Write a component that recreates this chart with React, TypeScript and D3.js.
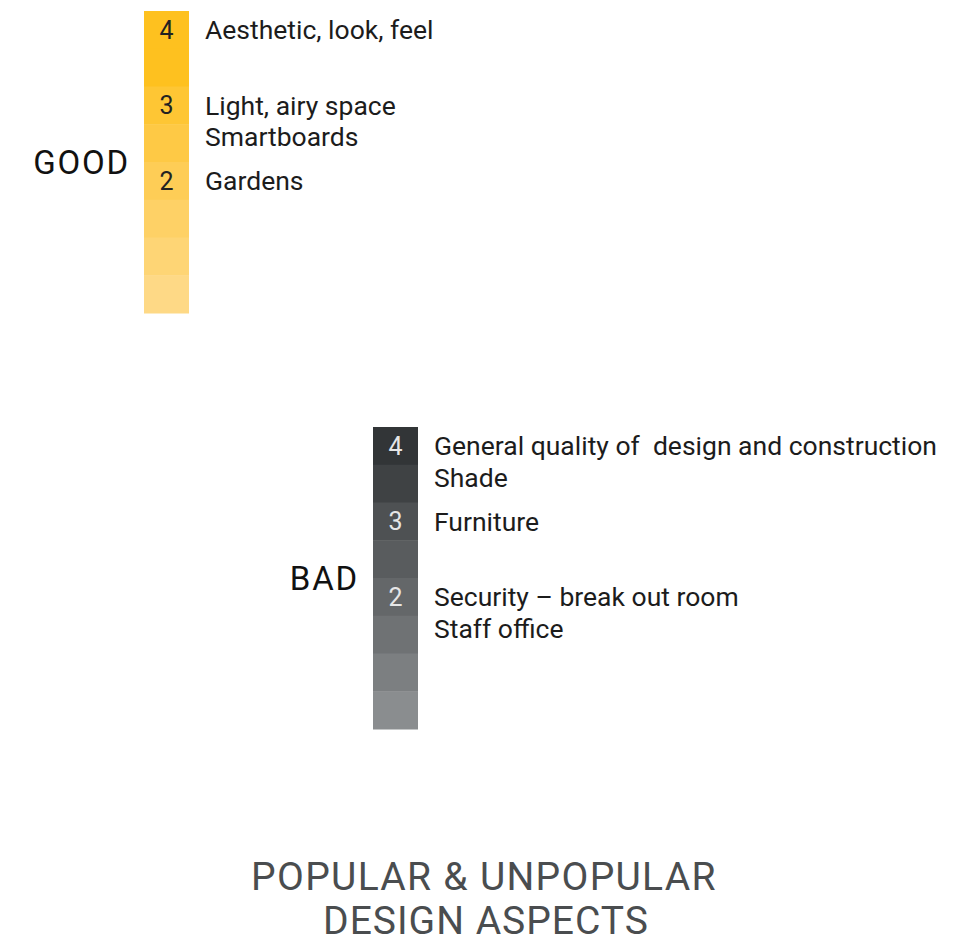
import React from "react";
import * as d3 from "d3";

const levels = [4, 3.5, 3, 2.5, 2, 1.5, 1, 0.5];
const tickLabels = [4, 3, 2];

const goodItems = [
  { label: "Aesthetic, look, feel", score: 4, line: 0 },
  { label: "Light, airy space", score: 3, line: 0 },
  { label: "Smartboards", score: 3, line: 1 },
  { label: "Gardens", score: 2, line: 0 },
];

const badItems = [
  { label: "General quality of  design and construction", score: 4, line: 0 },
  { label: "Shade", score: 4, line: 1 },
  { label: "Furniture", score: 3, line: 0 },
  { label: "Security \u2013 break out room", score: 2, line: 0 },
  { label: "Staff office", score: 2, line: 1 },
];

const goodColors = ["#fec11f", "#fec11f", "#fec634", "#fec945", "#fecd56", "#fed166", "#fed575", "#fed986"];
const badColors = ["#323537", "#3f4244", "#4e5153", "#595c5e", "#646769", "#6f7274", "#7c7f81", "#8a8d8f"];

const FONT = "Roboto, 'Noto Sans', sans-serif";

type Item = { label: string; score: number; line: number };

function Scale(props: {
  x: number;
  top: number;
  bottom: number;
  colors: string[];
  items: Item[];
  name: string;
  numColor: string;
}) {
  const { x, top, bottom, colors, items, name, numColor } = props;
  const y = d3.scaleBand<number>().domain(levels).range([top, bottom]);
  const color = d3.scaleOrdinal<number, string>().domain(levels).range(colors);
  const w = 45;
  const lineH = 31.5;
  return (
    <g>
      {levels.map((l) => (
        <rect key={l} x={x} y={y(l)!} width={w} height={y.bandwidth() + 0.5} fill={color(l)} />
      ))}
      {tickLabels.map((t) => (
        <text
          key={t}
          x={x + w / 2}
          y={y(t)! + y.bandwidth() / 2}
          dy="0.35em"
          textAnchor="middle"
          fontSize={25}
          fill={numColor}
          fontFamily={FONT}
        >
          {t}
        </text>
      ))}
      {items.map((it, i) => (
        <text
          key={i}
          x={x + w + 16}
          y={y(it.score)! + y.bandwidth() / 2 + it.line * lineH}
          dy="0.35em"
          fontSize={26.5}
          fill="#1c1c1c"
          fontFamily={FONT}
          style={{ whiteSpace: "pre" }}
        >
          {it.label}
        </text>
      ))}
      <text
        x={x - 14}
        y={(top + bottom) / 2}
        dy="0.35em"
        textAnchor="end"
        fontSize={33}
        letterSpacing={1.8}
        fill="#111"
        fontFamily={FONT}
      >
        {name}
      </text>
    </g>
  );
}

export default function App() {
  return (
    <div style={{ position: "absolute", left: 0, top: 0 }}>
      <svg width={974} height={938} style={{ display: "block", background: "#fff" }}>
        <Scale x={144} top={11} bottom={313} colors={goodColors} items={goodItems} name="GOOD" numColor="#222" />
        <Scale x={373} top={427} bottom={729} colors={badColors} items={badItems} name="BAD" numColor="#e6e6e6" />
        <text x={484} y={876} dy="0.35em" textAnchor="middle" fontSize={39} letterSpacing={1.3} fill="#4a4d4f" fontFamily={FONT}>
          POPULAR &amp; UNPOPULAR
        </text>
        <text x={486} y={920} dy="0.35em" textAnchor="middle" fontSize={39} letterSpacing={1} fill="#4a4d4f" fontFamily={FONT}>
          DESIGN ASPECTS
        </text>
      </svg>
    </div>
  );
}
